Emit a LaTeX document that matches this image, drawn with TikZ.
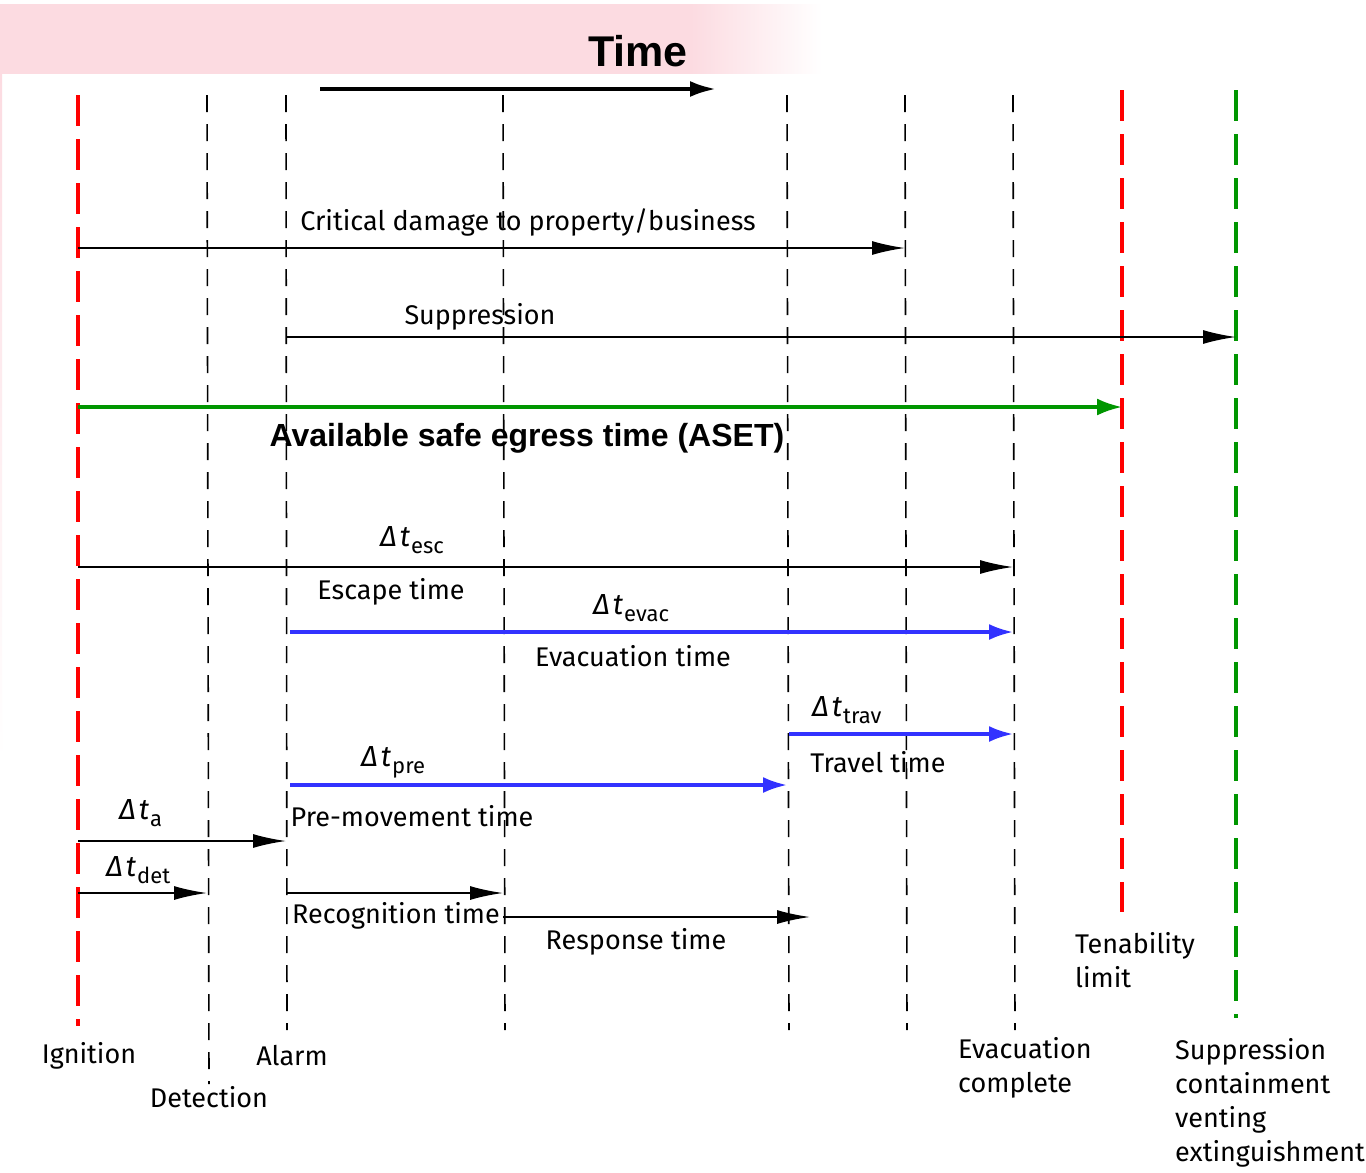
\documentclass[tikz,border=0pt]{standalone}
\usepackage{fontspec}
\setmainfont{Fira Sans}
\newfontfamily\headfont{Liberation Sans}
\usetikzlibrary{arrows.meta}
\definecolor{firered}{RGB}{255,0,0}
\definecolor{suppgreen}{RGB}{0,150,0}
\definecolor{evacblue}{RGB}{50,50,255}
\definecolor{bandpink}{RGB}{252,219,225}
% header band: flat pink that fades out towards its right end
\pgfdeclarehorizontalshading{bandfade}{100bp}{color(0bp)=(bandpink); color(25bp)=(bandpink);
  color(67bp)=(bandpink); color(75bp)=(white); color(100bp)=(white)}
% Delta-t symbol with a subscript label
\newcommand\dtime[1]{{\itshape Δ\kern3pt t}\kern1pt\raisebox{-7pt}{\fontsize{22}{22}\selectfont #1}}
\begin{document}
\begin{tikzpicture}[x=1pt,y=-1pt,
  guide/.style={black, line width=1.6pt, dash pattern=on 17pt off 12pt},
  redguide/.style={firered, line width=3.5pt, dash pattern=on 31pt off 13pt},
  greenguide/.style={suppgreen, line width=3.5pt, dash pattern=on 31pt off 13pt},
  blackarr/.style={black, line width=1.8pt, -{Latex[length=33pt,width=14pt]}},
  bluearr/.style={evacblue, line width=3.2pt, -{Latex[length=24pt,width=16pt]}},
  greenarr/.style={suppgreen, line width=3.2pt, -{Latex[length=25pt,width=17pt]}},
  timearr/.style={black, line width=3.8pt, -{Latex[length=26pt,width=16pt]}},
  lbl/.style={font=\fontsize{27}{34}\selectfont, inner sep=0pt},
  dlbl/.style={font=\fontsize{29}{29}\selectfont, inner sep=0pt, anchor=base west},
  multi/.style={lbl, align=left, anchor=west},
]
\useasboundingbox (0,0) rectangle (1366,1173);
\fill[white] (0,0) rectangle (1366,1173);

% header band and its faint trace down the left edge
\shade[shading=bandfade] (0,4) rectangle (822,73);
\shade[top color=bandpink, bottom color=white] (0,73) rectangle (2,760);
\node[font=\headfont\bfseries\fontsize{43}{43}\selectfont, inner sep=0pt] (time) at (638,51) {Time};
\coordinate (time-a) at (320,89);
\coordinate (time-b) at (716,89);
\draw[timearr] (time-a) -- (time-b);

% event lines
\coordinate (ign-t) at (78,95);    \coordinate (ign-b) at (78,1026);
\coordinate (det-t) at (207,95);   \coordinate (det-b) at (209,1084);
\coordinate (alm-t) at (286,95);   \coordinate (alm-b) at (287,1030);
\coordinate (rec-t) at (503,95);   \coordinate (rec-b) at (505,1030);
\coordinate (pre-t) at (787,95);   \coordinate (pre-b) at (789,1030);
\coordinate (cd-t) at (905,95);    \coordinate (cd-b) at (907,1030);
\coordinate (evc-t) at (1013,95);  \coordinate (evc-b) at (1015,1030);
\coordinate (ten-t) at (1122,90);  \coordinate (ten-b) at (1122,912);
\coordinate (sup-t) at (1236,90);  \coordinate (sup-b) at (1236,1018);

\draw[redguide] (ign-t) -- (ign-b);
\draw[guide] (det-t) -- (det-b);
\draw[guide] (alm-t) -- (alm-b);
\draw[guide] (rec-t) -- (rec-b);
\draw[guide] (pre-t) -- (pre-b);
\draw[guide] (cd-t) -- (cd-b);
\draw[guide] (evc-t) -- (evc-b);
\draw[redguide] (ten-t) -- (ten-b);
\draw[greenguide] (sup-t) -- (sup-b);

% critical damage
\coordinate (cda) at (78,248);  \coordinate (cdb) at (905,248);
\draw[blackarr] (cda) -- (cdb);
\node[lbl] (cdl) at (528,222) {Critical damage to property/business};

% suppression
\coordinate (spa) at (286,337);  \coordinate (spb) at (1236,337);
\draw[blackarr] (spa) -- (spb);
\node[lbl] (spl) at (480,317) {Suppression};

% ASET
\coordinate (asa) at (78,407);  \coordinate (asb) at (1122,407);
\draw[greenarr] (asa) -- (asb);
\node[font=\headfont\bfseries\fontsize{32}{32}\selectfont, inner sep=0pt] (asl) at (527,438) {Available safe egress time (ASET)};

% escape time
\coordinate (esa) at (78,567);  \coordinate (esb) at (1013,567);
\draw[blackarr] (esa) -- (esb);
\node[dlbl] (esd) at (380,546) {\dtime{esc}};
\node[lbl] (esl) at (391,592) {Escape time};

% evacuation time
\coordinate (eva) at (290,632);  \coordinate (evb) at (1013,632);
\draw[bluearr] (eva) -- (evb);
\node[dlbl] (evd) at (593,614) {\dtime{evac}};
\node[lbl] (evl) at (633,656) {Evacuation time};

% travel time
\coordinate (tra) at (789,734);  \coordinate (trb) at (1013,734);
\draw[bluearr] (tra) -- (trb);
\node[dlbl] (trd) at (812,716) {\dtime{trav}};
\node[lbl] (trl) at (878,762) {Travel time};

% pre-movement time
\coordinate (pma) at (290,785);  \coordinate (pmb) at (787,785);
\draw[bluearr] (pma) -- (pmb);
\node[dlbl] (pmd) at (361,766) {\dtime{pre}};
\node[lbl] (pml) at (412,816) {Pre-movement time};

% alarm delay
\coordinate (ala) at (78,841);  \coordinate (alb) at (286,841);
\draw[blackarr] (ala) -- (alb);
\node[dlbl] (ald) at (119,819) {\dtime{a}};

% detection delay
\coordinate (dea) at (78,893);  \coordinate (deb) at (207,893);
\draw[blackarr] (dea) -- (deb);
\node[dlbl] (ded) at (106,876) {\dtime{det}};

% recognition time
\coordinate (rca) at (286,893);  \coordinate (rcb) at (503,893);
\draw[blackarr] (rca) -- (rcb);
\node[lbl] (rcl) at (396,916) {Recognition time};

% response time
\coordinate (rsa) at (503,917);  \coordinate (rsb) at (810,917);
\draw[blackarr] (rsa) -- (rsb);
\node[lbl] (rsl) at (636,942) {Response time};

% event names
\node[lbl] (ignl) at (89,1056) {Ignition};
\node[lbl] (detl) at (209,1097) {Detection};
\node[lbl] (alml) at (292,1056) {Alarm};
\node[multi] (evcl) at (958,1068) {Evacuation\\complete};
\node[multi] (tenl) at (1075,960) {Tenability\\limit};
\node[multi] (supl) at (1175,1103) {Suppression\\containment\\venting\\extinguishment};
\end{tikzpicture}
\end{document}
